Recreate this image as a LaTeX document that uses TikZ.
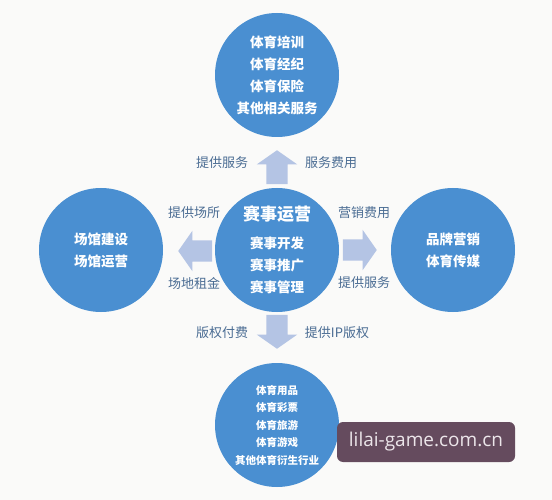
\documentclass[tikz,border=0pt]{standalone}
\usepackage{fontspec}
\newfontfamily\cjk{Noto Sans CJK SC}
\newfontfamily\wmfont{Open Sans}
\usetikzlibrary{shapes.arrows}
\definecolor{ballblue}{HTML}{4A8FD1}
\definecolor{flowblue}{HTML}{B4C4E4}
\definecolor{noteblue}{HTML}{4A6C93}
\definecolor{paper}{HTML}{FAFAF9}
\definecolor{stampbg}{HTML}{654B5E}
\definecolor{stamptext}{HTML}{ECE6EA}

\begin{document}
\begin{tikzpicture}[x=1pt,y=-1pt,
ball/.style={circle, fill=ballblue, minimum size=124pt, inner sep=0pt, text=white, align=center, font=\cjk\bfseries\fontsize{13.5}{22}\selectfont},
smallball/.style={ball, font=\cjk\bfseries\fontsize{10.5}{17.5}\selectfont},
flow/.style={single arrow, fill=flowblue, inner xsep=0pt, inner ysep=10.5pt, minimum height=34pt, single arrow head extend=9.5pt, single arrow tip angle=110},
note/.style={text=noteblue, inner sep=0pt, font=\cjk\fontsize{13}{15}\selectfont},
stamp/.style={fill=stampbg, rounded corners=6pt, minimum width=178pt, minimum height=40pt, text=stamptext, font=\wmfont\fontsize{19}{19}\selectfont}
]
  \fill[paper] (0,0) rectangle (552,500);
  \useasboundingbox (0,0) rectangle (552,500);

  \node[ball] (train) at (277,75) {体育培训\\体育经纪\\体育保险\\其他相关服务};
  \node[ball] (venue) at (101,250) {场馆建设\\场馆运营};
  \node[ball] (event) at (277,250) {{\fontsize{17}{22}\selectfont 赛事运营}\\[6pt]赛事开发\\赛事推广\\赛事管理};
  \node[ball] (brand) at (453,250) {品牌营销\\体育传媒};
  \node[smallball] (derive) at (277,425) {体育用品\\体育彩票\\体育旅游\\体育游戏\\其他体育衍生行业};

  \node[flow, rotate=90, anchor=tip] (up) at (277,150) {};
  \node[flow, rotate=180, anchor=tip] (left) at (178,251) {};
  \node[flow, anchor=tip] (right) at (377,250) {};
  \node[flow, rotate=-90, anchor=tip] (down) at (277,349) {};

  \node[note] (svc) at (222,163) {提供服务};
  \node[note] (fee) at (331,163) {服务费用};
  \node[note] (site) at (194,213) {提供场所};
  \node[note] (rent) at (194,283) {场地租金};
  \node[note] (mkt) at (364,213) {营销费用};
  \node[note] (svcb) at (364,283) {提供服务};
  \node[note] (pay) at (222,333) {版权付费};
  \node[note] (ip) at (337,333) {提供IP版权};

  \node[stamp] (url) at (426,442) {lilai-game.com.cn};
\end{tikzpicture}
\end{document}
